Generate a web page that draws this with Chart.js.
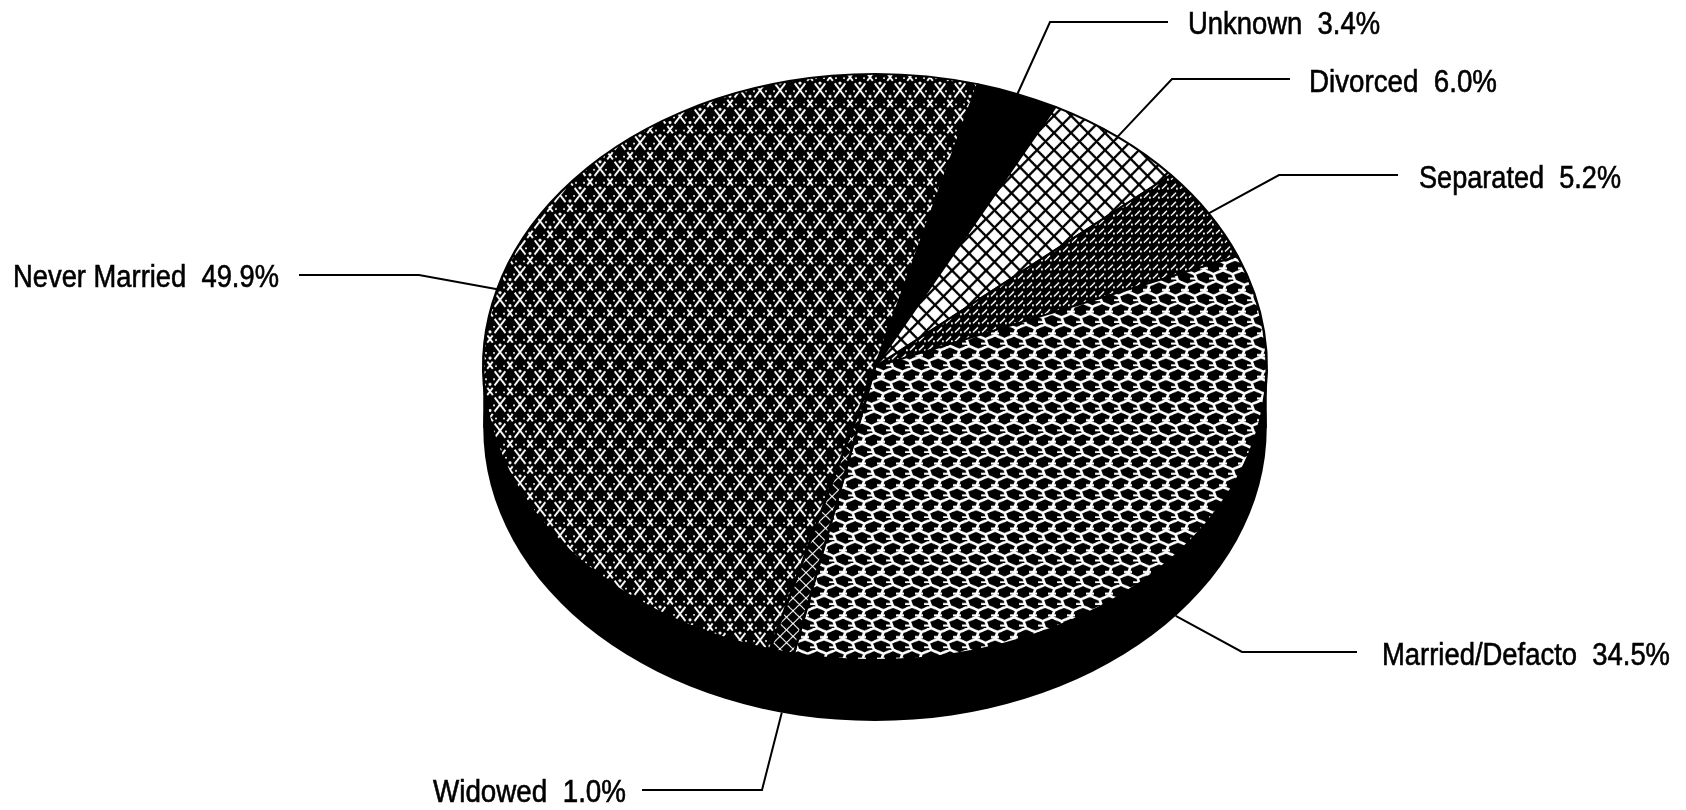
<!DOCTYPE html>
<html>
<head>
<meta charset="utf-8">
<style>html,body{margin:0;padding:0;background:#fff}canvas{display:block}</style>
<script src="https://cdn.jsdelivr.net/npm/chart.js@4/dist/chart.umd.min.js"></script>
</head>
<body>
<canvas id="c" width="1686" height="810"></canvas>
<script>
const categories = ['Unknown', 'Divorced', 'Separated', 'Married/Defacto', 'Widowed', 'Never Married'];
const shares = [3.4, 6.0, 5.2, 34.5, 1.0, 49.9];
const percentLabels = ['3.4%', '6.0%', '5.2%', '34.5%', '1.0%', '49.9%'];

// Presentation only
const TILT = 0.748, DEPTH = 61, TOP_Y = 367, ROTATION = 15.2;
const leaderPaths = [
  [[1050,22],[1168,22]],
  [[1172,79],[1290,79]],
  [[1279,175],[1398,175]],
  [[1242,652],[1357,652]],
  [[762,790],[642,790]],
  [[419,275],[299,275]]
];
const textBoxes = [
  [1188,1380,25],[1309,1497,83],[1419,1621,179],[1382,1670,656],[433,626,793],[13,279,278]
];

// Tiles are stretched vertically so that they come out undistorted after the tilt.
function tile(w, h, draw) {
  const c = document.createElement('canvas');
  const th = Math.round(h / TILT);
  c.width = w; c.height = th;
  const g = c.getContext('2d');
  g.scale(1, th / h);
  draw(g, w, h);
  return g.createPattern(c, 'repeat');
}
const scallop = tile(20, 26, (g, w, h) => {
  g.fillStyle = '#000'; g.fillRect(0, 0, w, h);
  g.strokeStyle = '#fff'; g.fillStyle = '#fff'; g.lineWidth = 1.9;
  g.setLineDash([9, 3]);
  g.beginPath();
  g.moveTo(-20, 0); g.lineTo(20, 52);
  g.moveTo(0, 0); g.lineTo(20, 26);
  g.moveTo(-20, 26); g.lineTo(0, 52);
  g.moveTo(40, 0); g.lineTo(0, 52);
  g.moveTo(20, 0); g.lineTo(0, 26);
  g.moveTo(40, 26); g.lineTo(20, 52);
  g.stroke();
  g.setLineDash([]);
  [[10,0],[0,13],[20,13],[10,26]].forEach(([x,y]) => {
    g.beginPath(); g.arc(x, y + 6, 1.6, 0, 7); g.fill();
    g.beginPath(); g.arc(x - 4, y + 1, 1, 0, 7); g.arc(x + 4, y + 1, 1, 0, 7); g.fill();
  });
});
const chain = tile(19, 22, (g, w, h) => {
  g.fillStyle = '#000'; g.fillRect(0, 0, w, h);
  g.strokeStyle = '#fff'; g.lineWidth = 2.7; g.lineJoin = 'round';
  [-19, 0, 19].forEach(o => {
    g.beginPath();
    g.moveTo(o, 0); g.lineTo(o + 9.5, 4); g.lineTo(o + 19, 0);
    g.moveTo(o + 9.5, 4); g.lineTo(o + 7, 11);
    g.moveTo(o + 7, 11); g.lineTo(o + 16.5, 15); g.lineTo(o + 26, 11);
    g.moveTo(o + 16.5, 15); g.lineTo(o + 19, 22);
    g.moveTo(o, 22); g.lineTo(o + 9.5, 26);
    g.stroke();
  });
  g.fillStyle = '#fff';
  g.fillRect(3, 8, 8, 2.2);
  g.fillRect(12, 18.5, 7, 2);
});
const lattice = tile(17, 17, (g, w, h) => {
  g.fillStyle = '#fff'; g.fillRect(0, 0, w, h);
  g.strokeStyle = '#000'; g.lineWidth = 2.3;
  g.beginPath();
  g.moveTo(-1, -1); g.lineTo(18, 18);
  g.moveTo(18, -1); g.lineTo(-1, 18);
  g.stroke();
});
const fineDots = tile(9, 9, (g, w, h) => {
  g.fillStyle = '#000'; g.fillRect(0, 0, w, h);
  g.strokeStyle = '#fff'; g.lineWidth = 1.4;
  g.beginPath(); g.moveTo(1, 8); g.lineTo(6, 3); g.stroke();
  g.fillStyle = '#fff'; g.fillRect(6, 7, 1.8, 1.8);
});
const widowFill = tile(13, 13, (g, w, h) => {
  g.fillStyle = '#000'; g.fillRect(0, 0, w, h);
  g.strokeStyle = '#fff'; g.lineWidth = 1.1;
  g.beginPath(); g.moveTo(0, 0); g.lineTo(13, 13); g.moveTo(13, 0); g.lineTo(0, 13); g.stroke();
});

const pieFills = ['#000', lattice, fineDots, chain, widowFill, scallop];

const tiltPlugin = {
  id: 'tilt',
  beforeDatasetsDraw(chart) {
    const ctx = chart.ctx, a = chart.getDatasetMeta(0).data[0];
    const r = a.outerRadius, ry = r * TILT;
    ctx.save();
    ctx.fillStyle = '#000';
    ctx.beginPath();
    ctx.ellipse(a.x, TOP_Y + DEPTH, r, ry, 0, 0, Math.PI * 2);
    ctx.fill();
    ctx.fillRect(a.x - r, TOP_Y, 2 * r, DEPTH);
    ctx.translate(0, TOP_Y);
    ctx.scale(1, TILT);
    ctx.translate(0, -a.y);
  },
  afterDatasetsDraw(chart) {
    chart.ctx.restore();
  },
  afterDraw(chart) {
    const ctx = chart.ctx;
    chart.getDatasetMeta(0).data.forEach((arc, i) => {
      const mid = (arc.startAngle + arc.endAngle) / 2;
      const r = arc.outerRadius;
      const px = arc.x + r * Math.cos(mid);
      let py = TOP_Y + r * TILT * Math.sin(mid);
      if (Math.sin(mid) > 0.3) py += DEPTH;
      ctx.save();
      ctx.strokeStyle = '#000'; ctx.lineWidth = 2; ctx.lineJoin = 'miter';
      ctx.beginPath(); ctx.moveTo(px, py);
      leaderPaths[i].forEach(([x, y]) => ctx.lineTo(x, y));
      ctx.stroke();
      const [x0, x1, yc] = textBoxes[i];
      const text = categories[i] + '  ' + percentLabels[i];
      ctx.fillStyle = '#000'; ctx.strokeStyle = '#000'; ctx.lineWidth = 0.6;
      ctx.font = '31px "Liberation Sans", Arial, sans-serif';
      ctx.textAlign = 'left'; ctx.textBaseline = 'middle';
      ctx.fillText(text, x0, yc, x1 - x0);
      ctx.strokeText(text, x0, yc, x1 - x0);
      ctx.restore();
    });
  }
};

new Chart(document.getElementById('c'), {
  type: 'pie',
  data: {
    labels: categories,
    datasets: [{ data: shares, backgroundColor: pieFills, borderColor: '#000', borderWidth: 2.5, clip: false }]
  },
  options: {
    responsive: false, animation: false, events: [],
    rotation: ROTATION,
    layout: { padding: { top: 12, bottom: 12, left: 64, right: 0 } },
    plugins: { legend: { display: false }, tooltip: { enabled: false } }
  },
  plugins: [tiltPlugin]
});
</script>
</body>
</html>
